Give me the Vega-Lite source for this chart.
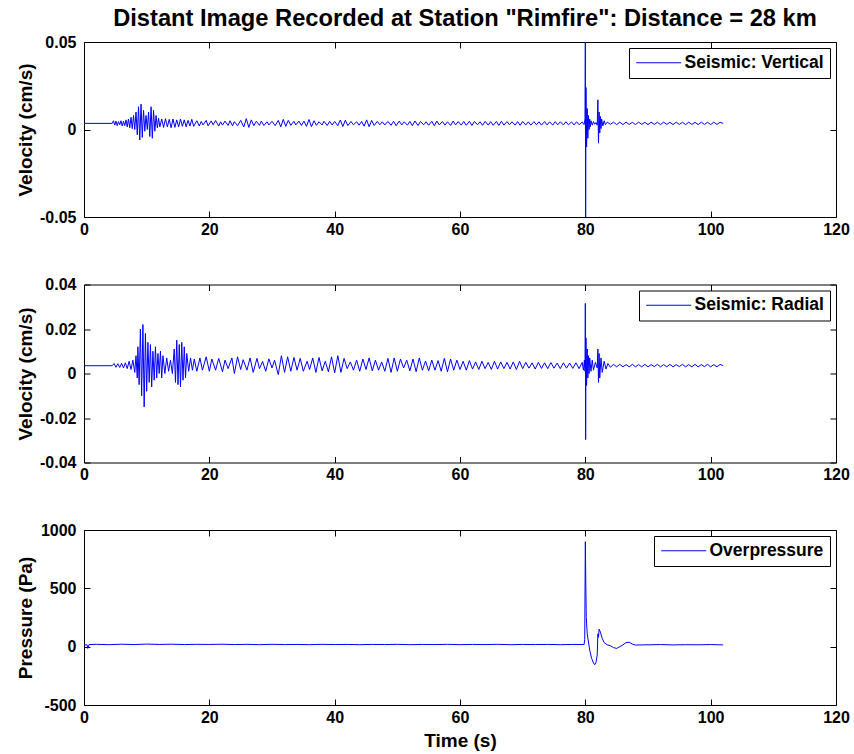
{
  "$schema": "https://vega.github.io/schema/vega-lite/v6.json",
  "background": "white",
  "padding": {"left": 15, "top": 6, "right": 5, "bottom": 5},
  "title": {"text": "Distant Image Recorded at Station \"Rimfire\": Distance = 28 km", "anchor": "middle", "frame": "group", "fontSize": 23.7, "fontWeight": "bold", "offset": -16, "dx": 5, "baseline": "alphabetic", "color": "#000"},
  "config": {
    "font": "Liberation Sans",
    "view": {"stroke": "#000", "strokeWidth": 1},
    "axis": {"grid": false, "domain": false, "tickColor": "#000", "tickSize": -6, "labelPadding": 14, "labelFontSize": 16, "labelFontWeight": "bold", "labelColor": "#000", "titleFontSize": 19, "titleFontWeight": "bold", "titleColor": "#000", "labelFlush": false, "labelOverlap": false, "labelBound": false},
    "axisX": {"labelPadding": 10},
    "legend": {"orient": "top-right", "offset": 6, "title": null, "symbolType": "M-5,0H5", "symbolSize": 81, "symbolOffset": 15, "symbolStrokeWidth": 1, "symbolStrokeColor": "#0000ff", "symbolFillColor": "transparent", "labelFontSize": 17.5, "labelFontWeight": "bold", "labelColor": "#000", "fillColor": "#fff", "strokeColor": "#000", "padding": 6, "labelOffset": 17},
    "locale": {"number": {"decimal": ".", "thousands": ",", "grouping": [3], "currency": ["$", ""], "minus": "-"}}
  },
  "datasets": {
    "v1": [
      {"t":0,"v":0.0035},{"t":4.5,"v":0.0035},{"t":4.7,"v":0.005},{"t":4.9,"v":0.0025},{"t":5.1,"v":0.0048},{"t":5.3,"v":0.0022},{"t":5.5,"v":0.0045},{"t":5.7,"v":0.0027},{"t":5.9,"v":0.005},{"t":6.1,"v":0.002},{"t":6.3,"v":0.0047},{"t":6.5,"v":0.0022},{"t":6.7,"v":0.0055},{"t":6.9,"v":0.0015},{"t":7.1,"v":0.006},{"t":7.3,"v":0.001},{"t":7.5,"v":0.007},{"t":7.7,"v":0.0005},{"t":7.9,"v":0.008},{"t":8.1,"v":0},{"t":8.3,"v":0.01},{"t":8.5,"v":-0.003},{"t":8.7,"v":0.013},{"t":8.9,"v":-0.006},{"t":9.1,"v":0.0145},{"t":9.3,"v":-0.0045},{"t":9.5,"v":0.011},{"t":9.7,"v":-0.001},{"t":9.9,"v":0.008},{"t":10.1,"v":0},{"t":10.3,"v":0.01},{"t":10.5,"v":-0.004},{"t":10.7,"v":0.013},{"t":10.9,"v":-0.005},{"t":11.1,"v":0.011},{"t":11.3,"v":-0.001},{"t":11.5,"v":0.008},{"t":11.7,"v":0.001},{"t":11.9,"v":0.0065},{"t":12.1,"v":0.0015},{"t":12.4,"v":0.006},{"t":12.7,"v":0.0012},{"t":13,"v":0.0062},{"t":13.3,"v":0.0015},{"t":13.6,"v":0.0058},{"t":13.9,"v":0.001},{"t":14.2,"v":0.006},{"t":14.5,"v":0.0012},{"t":14.8,"v":0.0055},{"t":15.1,"v":0.0015},{"t":15.4,"v":0.006},{"t":15.7,"v":0.0018},{"t":16,"v":0.0055},{"t":16.3,"v":0.0015},{"t":16.6,"v":0.0052},{"t":16.9,"v":0.002},{"t":17.2,"v":0.0058},{"t":17.5,"v":0.0018},
      {"t":18,"v":0.005},{"t":18.4,"v":0.002},{"t":18.7,"v":0.0046},{"t":19,"v":0.0026},{"t":19.5,"v":0.0052},{"t":19.8,"v":0.0021},{"t":20.3,"v":0.0049},{"t":20.6,"v":0.0027},{"t":21,"v":0.0051},{"t":21.5,"v":0.002},{"t":21.8,"v":0.0044},{"t":22.1,"v":0.0025},{"t":22.5,"v":0.0048},{"t":23,"v":0.0023},{"t":23.3,"v":0.005},{"t":23.7,"v":0.0021},{"t":24,"v":0.0045},{"t":24.5,"v":0.0022},{"t":25,"v":0.0052},{"t":25.5,"v":0.0015},{"t":25.9,"v":0.0062},{"t":26.3,"v":0.0012},{"t":26.7,"v":0.0055},{"t":27.1,"v":0.0022},{"t":27.5,"v":0.0047},{"t":28,"v":0.0024},{"t":28.3,"v":0.0048},{"t":28.7,"v":0.0023},{"t":29.2,"v":0.0044},{"t":29.5,"v":0.0026},{"t":30,"v":0.0047},{"t":30.5,"v":0.0022},{"t":31,"v":0.0052},{"t":31.4,"v":0.0015},{"t":31.8,"v":0.0058},{"t":32.2,"v":0.0018},{"t":32.6,"v":0.0052},{"t":33,"v":0.0024},{"t":33.5,"v":0.0047},{"t":33.8,"v":0.0026},{"t":34.3,"v":0.0048},{"t":34.7,"v":0.0023},{"t":35.1,"v":0.0048},{"t":35.5,"v":0.0018},{"t":35.9,"v":0.0057},{"t":36.3,"v":0.0016},{"t":36.7,"v":0.005},{"t":37.1,"v":0.0024},{"t":37.5,"v":0.0044},{"t":38,"v":0.0026},{"t":38.3,"v":0.0047},{"t":38.8,"v":0.0023},{"t":39.2,"v":0.0046},{"t":39.6,"v":0.0026},{"t":40,"v":0.0046},{"t":40.5,"v":0.0022},{"t":40.9,"v":0.0054},{"t":41.3,"v":0.0017},{"t":41.7,"v":0.0053},{"t":42.1,"v":0.0022},{"t":42.6,"v":0.0046},{"t":43,"v":0.0027},{"t":43.5,"v":0.0044},{"t":43.9,"v":0.0025},{"t":44.3,"v":0.0046},{"t":44.7,"v":0.0019},{"t":45.1,"v":0.0055},{"t":45.5,"v":0.0016},{"t":45.9,"v":0.0052},{"t":46.3,"v":0.0023},{"t":46.8,"v":0.0046},{"t":47.2,"v":0.0027},{"t":47.6,"v":0.0044},{"t":48,"v":0.0026},{"t":48.5,"v":0.0046},{"t":49,"v":0.0024},{"t":49.4,"v":0.0047},{"t":49.8,"v":0.0022},{"t":50.3,"v":0.0048},{"t":50.7,"v":0.0026},{"t":51.1,"v":0.0044},{"t":51.6,"v":0.0025},{"t":52,"v":0.0046},{"t":52.4,"v":0.0022},{"t":52.8,"v":0.0049},{"t":53.3,"v":0.0023},{"t":53.7,"v":0.0046},{"t":54.2,"v":0.0027},{"t":54.6,"v":0.0044},{"t":55,"v":0.0024},{"t":55.5,"v":0.0047},{"t":55.9,"v":0.0022},{"t":56.3,"v":0.0048},{"t":56.7,"v":0.0026},{"t":57.2,"v":0.0046},{"t":57.6,"v":0.0025},{"t":58,"v":0.0044},{"t":58.5,"v":0.0023},{"t":58.9,"v":0.0048},{"t":59.3,"v":0.0026},{"t":59.7,"v":0.0045},{"t":60.2,"v":0.0025},{"t":60.6,"v":0.0046},{"t":61,"v":0.0024},{"t":61.5,"v":0.0047},{"t":61.9,"v":0.0023},{"t":62.3,"v":0.0046},{"t":62.8,"v":0.0027},{"t":63.2,"v":0.0044},{"t":63.6,"v":0.0024},{"t":64,"v":0.0046},{"t":64.5,"v":0.0025},{"t":64.9,"v":0.0045},{"t":65.3,"v":0.0024},{"t":65.8,"v":0.0046},{"t":66.2,"v":0.0023},{"t":66.6,"v":0.0047},{"t":67,"v":0.0025},{"t":67.5,"v":0.0045},{"t":67.9,"v":0.0027},{"t":68.3,"v":0.0044},{"t":68.8,"v":0.0025},{"t":69.2,"v":0.0045},{"t":69.6,"v":0.0024},{"t":70,"v":0.0046},{"t":70.5,"v":0.0026},{"t":70.9,"v":0.0044},{"t":71.3,"v":0.0025},{"t":71.8,"v":0.0045},{"t":72.2,"v":0.0027},{"t":72.6,"v":0.0044},{"t":73,"v":0.0025},{"t":73.5,"v":0.0045},{"t":73.9,"v":0.0026},{"t":74.3,"v":0.0044},{"t":74.8,"v":0.0025},{"t":75.2,"v":0.0045},{"t":75.6,"v":0.0027},{"t":76,"v":0.0044},{"t":76.5,"v":0.0026},{"t":76.9,"v":0.0044},{"t":77.3,"v":0.0027},{"t":77.8,"v":0.0043},{"t":78.2,"v":0.0026},{"t":78.6,"v":0.0044},{"t":79,"v":0.0027},{"t":79.5,"v":0.0043},
      {"t":79.8,"v":0.0028},{"t":79.95,"v":0.006},{"t":80,"v":0.05},{"t":80.05,"v":-0.05},{"t":80.1,"v":0.024},{"t":80.2,"v":-0.01},{"t":80.3,"v":0.012},{"t":80.4,"v":-0.005},{"t":80.5,"v":0.008},{"t":80.6,"v":0},{"t":80.7,"v":0.006},{"t":80.8,"v":0.0015},{"t":80.9,"v":0.005},{"t":81.1,"v":0.0025},{"t":81.3,"v":0.0045},{"t":81.5,"v":0.003},{"t":81.7,"v":0.004},{"t":81.9,"v":0.0025},{"t":82,"v":0.017},{"t":82.1,"v":-0.0078},{"t":82.2,"v":0.01},{"t":82.3,"v":-0.002},{"t":82.4,"v":0.0075},{"t":82.5,"v":0.0005},{"t":82.6,"v":0.006},{"t":82.8,"v":0.002},{"t":83,"v":0.005},{"t":83.2,"v":0.0028},{"t":83.5,"v":0.0042},
      {"t":84,"v":0.003},{"t":84.5,"v":0.0042},{"t":85,"v":0.0028},{"t":85.5,"v":0.0042},{"t":86,"v":0.0028},{"t":86.5,"v":0.0042},{"t":87,"v":0.0029},{"t":87.5,"v":0.0041},{"t":88,"v":0.0028},{"t":88.5,"v":0.0042},{"t":89,"v":0.0029},{"t":89.5,"v":0.0041},{"t":90,"v":0.0028},{"t":90.5,"v":0.0042},{"t":91,"v":0.0029},{"t":91.5,"v":0.0041},{"t":92,"v":0.0028},{"t":92.5,"v":0.0042},{"t":93,"v":0.0029},{"t":93.5,"v":0.0041},{"t":94,"v":0.0028},{"t":94.5,"v":0.0042},{"t":95,"v":0.0029},{"t":95.5,"v":0.0041},{"t":96,"v":0.0028},{"t":96.5,"v":0.0042},{"t":97,"v":0.0029},{"t":97.5,"v":0.0041},{"t":98,"v":0.0028},{"t":98.5,"v":0.0042},{"t":99,"v":0.0029},{"t":99.5,"v":0.0041},{"t":100,"v":0.0028},{"t":100.5,"v":0.0042},{"t":101,"v":0.0029},{"t":101.5,"v":0.0041},{"t":102,"v":0.0035}
    ],
    "v2": [
      {"t":0,"v":0.0035},{"t":4.5,"v":0.0035},{"t":4.8,"v":0.0045},{"t":5.1,"v":0.0028},{"t":5.4,"v":0.0044},{"t":5.7,"v":0.0027},{"t":6,"v":0.0046},{"t":6.3,"v":0.0025},{"t":6.6,"v":0.0048},{"t":6.9,"v":0.0022},{"t":7.2,"v":0.0055},{"t":7.5,"v":0.0018},{"t":7.8,"v":0.006},{"t":8.1,"v":0.0005},{"t":8.3,"v":0.008},{"t":8.5,"v":-0.002},{"t":8.6,"v":0.012},{"t":8.8,"v":-0.005},{"t":9,"v":0.02},{"t":9.2,"v":-0.01},{"t":9.4,"v":0.022},{"t":9.6,"v":-0.015},{"t":9.8,"v":0.018},{"t":10,"v":-0.008},{"t":10.2,"v":0.014},{"t":10.4,"v":-0.004},{"t":10.6,"v":0.013},{"t":10.8,"v":-0.006},{"t":11,"v":0.01},{"t":11.2,"v":-0.003},{"t":11.4,"v":0.012},{"t":11.6,"v":-0.002},{"t":11.8,"v":0.009},{"t":12,"v":0},{"t":12.2,"v":0.01},{"t":12.4,"v":-0.002},{"t":12.6,"v":0.008},{"t":12.9,"v":0},{"t":13.2,"v":0.007},{"t":13.5,"v":0.001},{"t":13.8,"v":0.006},{"t":14.1,"v":0},{"t":14.4,"v":0.011},{"t":14.6,"v":-0.004},{"t":14.8,"v":0.015},{"t":15,"v":-0.005},{"t":15.2,"v":0.013},{"t":15.4,"v":-0.006},{"t":15.6,"v":0.014},{"t":15.8,"v":-0.003},{"t":16,"v":0.012},{"t":16.2,"v":-0.002},{"t":16.4,"v":0.009},{"t":16.7,"v":0.001},{"t":17,"v":0.007},{"t":17.3,"v":0.0015},{"t":17.6,"v":0.0065},
      {"t":18,"v":0.001},{"t":18.5,"v":0.007},{"t":18.9,"v":0.0015},{"t":19.5,"v":0.0075},{"t":20,"v":0.001},{"t":20.4,"v":0.0065},{"t":21,"v":0.0015},{"t":21.5,"v":0.0068},{"t":22.1,"v":0.0008},{"t":22.5,"v":0.006},{"t":23,"v":0.0022},{"t":23.6,"v":0.007},{"t":24,"v":0},{"t":24.5,"v":0.0075},{"t":25,"v":0.0018},{"t":25.4,"v":0.0062},{"t":26,"v":0.0015},{"t":26.5,"v":0.007},{"t":27,"v":0.0005},{"t":27.6,"v":0.0068},{"t":28,"v":0.0022},{"t":28.5,"v":0.0054},{"t":29,"v":0.001},{"t":29.5,"v":0.0066},{"t":30,"v":0.0025},{"t":30.4,"v":0.006},{"t":31,"v":-0.0005},{"t":31.5,"v":0.008},{"t":32,"v":0.0005},{"t":32.5,"v":0.0075},{"t":33,"v":0.001},{"t":33.5,"v":0.0072},{"t":34,"v":0.0015},{"t":34.5,"v":0.0068},{"t":35,"v":0.001},{"t":35.6,"v":0.0055},{"t":36,"v":0.0018},{"t":36.5,"v":0.007},{"t":37,"v":0.0005},{"t":37.5,"v":0.0072},{"t":38,"v":0.0012},{"t":38.5,"v":0.0055},{"t":39,"v":0.0008},{"t":39.5,"v":0.0075},{"t":40,"v":0.0003},{"t":40.5,"v":0.008},{"t":41,"v":0.0005},{"t":41.5,"v":0.0068},{"t":42,"v":0.0022},{"t":42.5,"v":0.0052},{"t":43,"v":0.0015},{"t":43.5,"v":0.006},{"t":44,"v":0.001},{"t":44.5,"v":0.0065},{"t":45,"v":0.0018},{"t":45.5,"v":0.007},{"t":46,"v":0.0012},{"t":46.5,"v":0.006},{"t":47,"v":0.0015},{"t":47.5,"v":0.0052},{"t":48,"v":0.001},{"t":48.5,"v":0.0068},{"t":49,"v":0.0005},{"t":49.5,"v":0.007},{"t":50,"v":0.001},{"t":50.5,"v":0.0065},{"t":51,"v":0.0025},{"t":51.5,"v":0.006},{"t":52,"v":0.0012},{"t":52.5,"v":0.0065},{"t":53,"v":0.0008},{"t":53.5,"v":0.007},{"t":54,"v":0.0015},{"t":54.5,"v":0.0056},{"t":55,"v":0.0012},{"t":55.5,"v":0.006},{"t":56,"v":0.0015},{"t":56.5,"v":0.0058},{"t":57,"v":0.001},{"t":57.5,"v":0.0068},{"t":58,"v":0.0008},{"t":58.5,"v":0.0065},{"t":59,"v":0.0015},{"t":59.5,"v":0.006},{"t":60,"v":0.0018},{"t":60.5,"v":0.0055},{"t":61,"v":0.0015},{"t":61.5,"v":0.0058},{"t":62,"v":0.002},{"t":62.5,"v":0.0052},{"t":63,"v":0.0018},{"t":63.5,"v":0.0055},{"t":64,"v":0.0022},{"t":64.5,"v":0.005},{"t":65,"v":0.0018},{"t":65.5,"v":0.0055},{"t":66,"v":0.002},{"t":66.5,"v":0.0052},{"t":67,"v":0.0022},{"t":67.5,"v":0.005},{"t":68,"v":0.002},{"t":68.5,"v":0.0052},{"t":69,"v":0.0018},{"t":69.5,"v":0.0055},{"t":70,"v":0.0022},{"t":70.5,"v":0.005},{"t":71,"v":0.0024},{"t":71.5,"v":0.0048},{"t":72,"v":0.002},{"t":72.5,"v":0.005},{"t":73,"v":0.0023},{"t":73.5,"v":0.0048},{"t":74,"v":0.0022},{"t":74.5,"v":0.0049},{"t":75,"v":0.0024},{"t":75.5,"v":0.0047},{"t":76,"v":0.0022},{"t":76.5,"v":0.0048},{"t":77,"v":0.0024},{"t":77.5,"v":0.0047},{"t":78,"v":0.0023},{"t":78.5,"v":0.0048},{"t":79,"v":0.0022},{"t":79.5,"v":0.005},
      {"t":79.7,"v":0.0015},{"t":79.85,"v":0.006},{"t":79.95,"v":0.001},{"t":80,"v":0.0315},{"t":80.05,"v":-0.0297},{"t":80.1,"v":0.016},{"t":80.2,"v":-0.0054},{"t":80.3,"v":0.011},{"t":80.4,"v":-0.002},{"t":80.5,"v":0.008},{"t":80.6,"v":0},{"t":80.7,"v":0.007},{"t":80.9,"v":0.001},{"t":81.1,"v":0.006},{"t":81.3,"v":0.0015},{"t":81.6,"v":0.005},{"t":81.9,"v":0.0025},{"t":82,"v":0.011},{"t":82.1,"v":-0.004},{"t":82.2,"v":0.009},{"t":82.3,"v":-0.002},{"t":82.5,"v":0.007},{"t":82.7,"v":0.0005},{"t":83,"v":0.0055},{"t":83.3,"v":0.002},{"t":83.6,"v":0.0045},{"t":84,"v":0.0028},
      {"t":84.5,"v":0.0041},{"t":85,"v":0.003},{"t":85.5,"v":0.0041},{"t":86,"v":0.003},{"t":86.5,"v":0.004},{"t":87,"v":0.003},{"t":87.5,"v":0.0041},{"t":88,"v":0.003},{"t":88.5,"v":0.004},{"t":89,"v":0.003},{"t":89.5,"v":0.0041},{"t":90,"v":0.003},{"t":90.5,"v":0.004},{"t":91,"v":0.0031},{"t":91.5,"v":0.0041},{"t":92,"v":0.003},{"t":92.5,"v":0.004},{"t":93,"v":0.003},{"t":93.5,"v":0.0041},{"t":94,"v":0.003},{"t":94.5,"v":0.004},{"t":95,"v":0.0031},{"t":95.5,"v":0.0041},{"t":96,"v":0.003},{"t":96.5,"v":0.004},{"t":97,"v":0.003},{"t":97.5,"v":0.0041},{"t":98,"v":0.003},{"t":98.5,"v":0.004},{"t":99,"v":0.0031},{"t":99.5,"v":0.0041},{"t":100,"v":0.003},{"t":100.5,"v":0.004},{"t":101,"v":0.003},{"t":101.5,"v":0.0041},{"t":102,"v":0.0035}
    ],
    "p": [
      {"t":0,"v":15},{"t":0.5,"v":15},{"t":0.6,"v":-15},{"t":0.8,"v":18},{"t":2,"v":20},{"t":4,"v":17},{"t":6,"v":21},{"t":8,"v":18},{"t":10,"v":22},{"t":12,"v":19},{"t":14,"v":21},{"t":16,"v":18},{"t":18,"v":20},{"t":20,"v":19},{"t":22,"v":21},{"t":24,"v":18},{"t":26,"v":20},{"t":28,"v":17},{"t":30,"v":20},{"t":32,"v":18},{"t":34,"v":19},{"t":36,"v":17},{"t":38,"v":20},{"t":40,"v":18},{"t":42,"v":19},{"t":44,"v":17},{"t":46,"v":19},{"t":48,"v":18},{"t":50,"v":20},{"t":52,"v":17},{"t":54,"v":19},{"t":56,"v":18},{"t":58,"v":20},{"t":60,"v":17},{"t":62,"v":19},{"t":64,"v":18},{"t":66,"v":20},{"t":68,"v":17},{"t":70,"v":19},{"t":72,"v":18},{"t":74,"v":19},{"t":76,"v":17},{"t":78,"v":19},{"t":79.8,"v":18},{"t":79.9,"v":60},{"t":80,"v":900},{"t":80.08,"v":520},{"t":80.15,"v":250},{"t":80.3,"v":110},{"t":80.5,"v":40},{"t":80.7,"v":-30},{"t":81,"v":-100},{"t":81.3,"v":-140},{"t":81.5,"v":-155},{"t":81.7,"v":-135},{"t":81.9,"v":-70},{"t":82,"v":110},{"t":82.1,"v":80},{"t":82.2,"v":150},{"t":82.4,"v":125},{"t":82.7,"v":70},{"t":83,"v":35},{"t":83.5,"v":15},{"t":84,"v":8},{"t":84.5,"v":-8},{"t":85,"v":-15},{"t":85.5,"v":0},{"t":86,"v":15},{"t":86.5,"v":35},{"t":87,"v":38},{"t":87.5,"v":22},{"t":88,"v":14},{"t":90,"v":16},{"t":92,"v":18},{"t":94,"v":15},{"t":96,"v":17},{"t":98,"v":16},{"t":100,"v":18},{"t":102,"v":15}
    ]
  },
  "spacing": 67.5,
  "bounds": "flush",
  "resolve": {"scale": {"color": "independent", "x": "independent", "y": "independent"}},
  "vconcat": [
    {
      "width": 752, "height": 175,
      "resolve": {"axis": {"x": "independent", "y": "independent"}},
      "layer": [
        {"data": {"name": "v1"}, "mark": {"type": "line", "clip": true, "strokeWidth": 1},
         "encoding": {
           "x": {"field": "t", "type": "quantitative", "scale": {"domain": [0, 120], "nice": false}, "axis": {"orient": "bottom", "values": [0, 20, 40, 60, 80, 100, 120], "format": "d", "title": null}},
           "y": {"field": "v", "type": "quantitative", "scale": {"domain": [-0.05, 0.05], "nice": false, "zero": false}, "axis": {"orient": "left", "values": [-0.05, 0, 0.05], "format": "~g", "title": "Velocity (cm/s)", "titleX": -53, "titleBaseline": "alphabetic"}},
           "color": {"datum": "Seismic: Vertical", "type": "nominal", "scale": {"range": ["#0000ff"]}, "legend": {"title": null}}
         }},
        {"data": {"name": "v1"}, "mark": {"type": "line", "opacity": 0, "clip": true},
         "encoding": {
           "x": {"field": "t", "type": "quantitative", "scale": {"domain": [0, 120], "nice": false}, "axis": {"orient": "top", "values": [0, 20, 40, 60, 80, 100, 120], "labels": false, "title": null, "minExtent": 0, "maxExtent": 0}},
           "y": {"field": "v", "type": "quantitative", "scale": {"domain": [-0.05, 0.05], "nice": false, "zero": false}, "axis": {"orient": "right", "values": [-0.05, 0, 0.05], "labels": false, "title": null, "minExtent": 0, "maxExtent": 0}}
         }}
      ]
    },
    {
      "width": 752, "height": 178,
      "resolve": {"axis": {"x": "independent", "y": "independent"}},
      "layer": [
        {"data": {"name": "v2"}, "mark": {"type": "line", "clip": true, "strokeWidth": 1},
         "encoding": {
           "x": {"field": "t", "type": "quantitative", "scale": {"domain": [0, 120], "nice": false}, "axis": {"orient": "bottom", "values": [0, 20, 40, 60, 80, 100, 120], "format": "d", "title": null}},
           "y": {"field": "v", "type": "quantitative", "scale": {"domain": [-0.04, 0.04], "nice": false, "zero": false}, "axis": {"orient": "left", "values": [-0.04, -0.02, 0, 0.02, 0.04], "format": "~g", "title": "Velocity (cm/s)", "titleX": -53, "titleBaseline": "alphabetic"}},
           "color": {"datum": "Seismic: Radial", "type": "nominal", "scale": {"range": ["#0000ff"]}, "legend": {"title": null}}
         }},
        {"data": {"name": "v2"}, "mark": {"type": "line", "opacity": 0, "clip": true},
         "encoding": {
           "x": {"field": "t", "type": "quantitative", "scale": {"domain": [0, 120], "nice": false}, "axis": {"orient": "top", "values": [0, 20, 40, 60, 80, 100, 120], "labels": false, "title": null, "minExtent": 0, "maxExtent": 0}},
           "y": {"field": "v", "type": "quantitative", "scale": {"domain": [-0.04, 0.04], "nice": false, "zero": false}, "axis": {"orient": "right", "values": [-0.04, -0.02, 0, 0.02, 0.04], "labels": false, "title": null, "minExtent": 0, "maxExtent": 0}}
         }}
      ]
    },
    {
      "width": 752, "height": 175,
      "resolve": {"axis": {"x": "independent", "y": "independent"}},
      "layer": [
        {"data": {"name": "p"}, "mark": {"type": "line", "clip": true, "strokeWidth": 1},
         "encoding": {
           "x": {"field": "t", "type": "quantitative", "scale": {"domain": [0, 120], "nice": false}, "axis": {"orient": "bottom", "values": [0, 20, 40, 60, 80, 100, 120], "format": "d", "title": "Time (s)", "titleY": 41, "titleBaseline": "alphabetic"}},
           "y": {"field": "v", "type": "quantitative", "scale": {"domain": [-500, 1000], "nice": false, "zero": false}, "axis": {"orient": "left", "values": [-500, 0, 500, 1000], "format": "d", "title": "Pressure (Pa)", "titleX": -53, "titleBaseline": "alphabetic"}},
           "color": {"datum": "Overpressure", "type": "nominal", "scale": {"range": ["#0000ff"]}, "legend": {"title": null}}
         }},
        {"data": {"name": "p"}, "mark": {"type": "line", "opacity": 0, "clip": true},
         "encoding": {
           "x": {"field": "t", "type": "quantitative", "scale": {"domain": [0, 120], "nice": false}, "axis": {"orient": "top", "values": [0, 20, 40, 60, 80, 100, 120], "labels": false, "title": null, "minExtent": 0, "maxExtent": 0}},
           "y": {"field": "v", "type": "quantitative", "scale": {"domain": [-500, 1000], "nice": false, "zero": false}, "axis": {"orient": "right", "values": [-500, 0, 500, 1000], "labels": false, "title": null, "minExtent": 0, "maxExtent": 0}}
         }}
      ]
    }
  ]
}
